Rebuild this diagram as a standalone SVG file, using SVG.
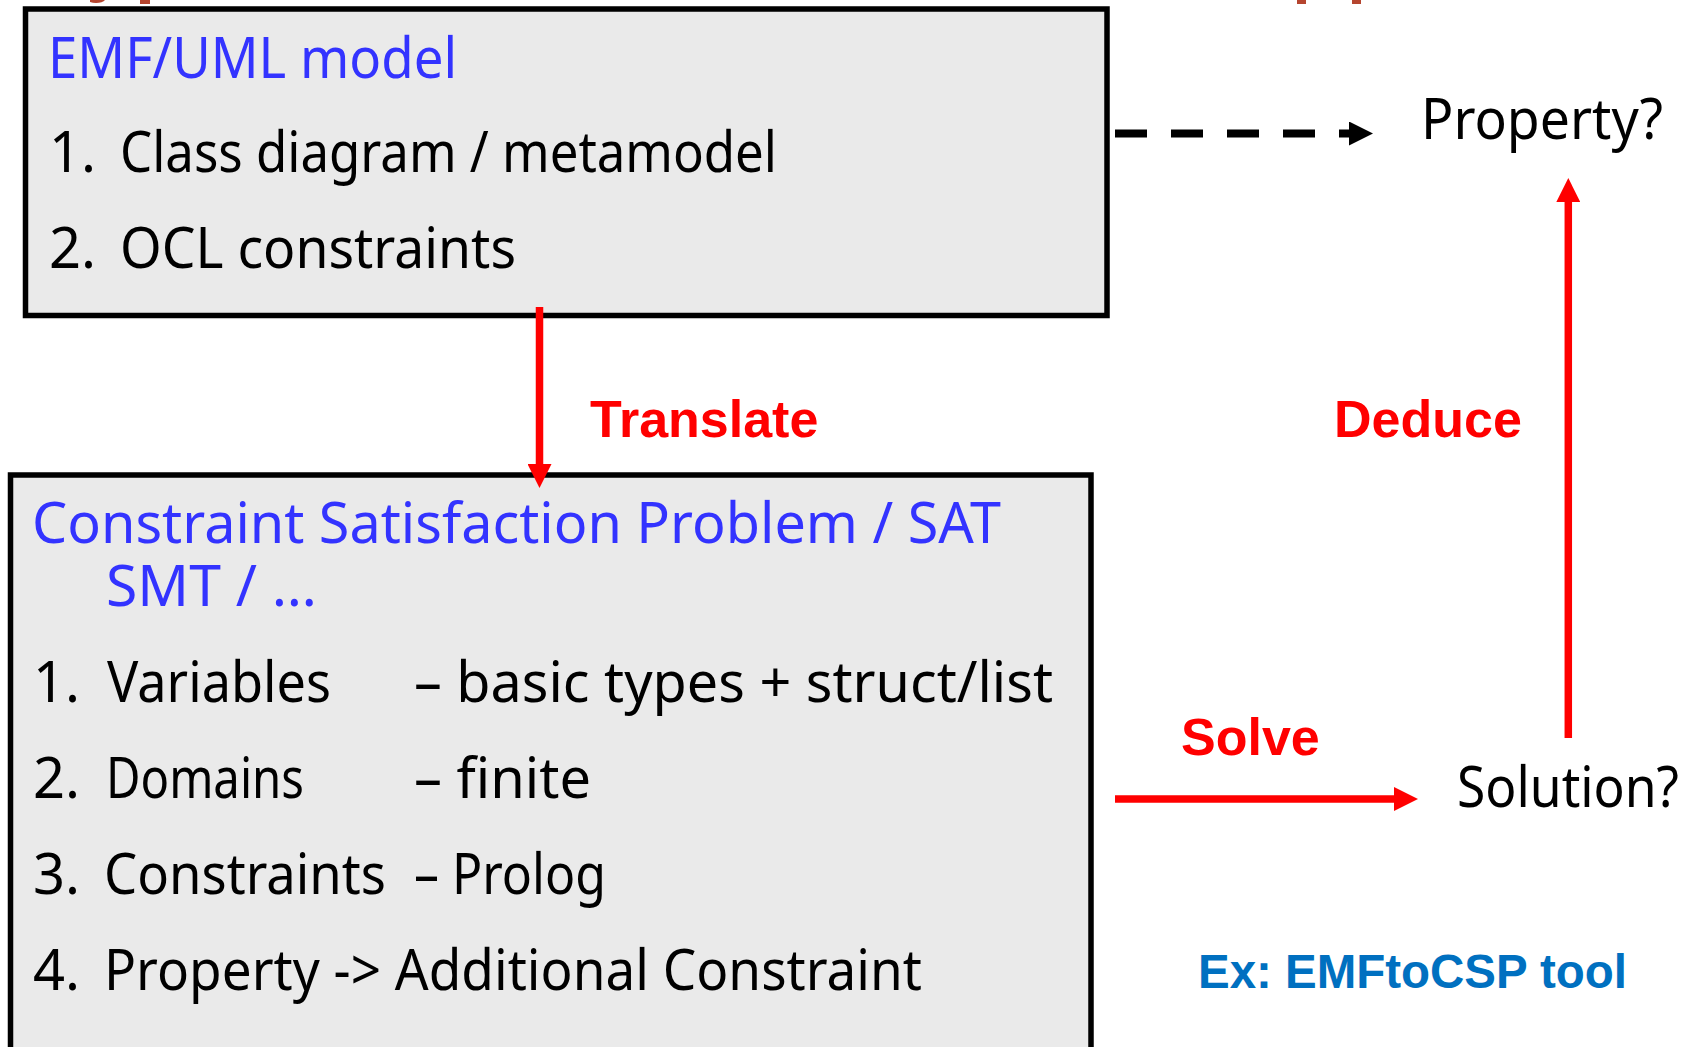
<svg xmlns="http://www.w3.org/2000/svg" width="1692" height="1047" viewBox="0 0 1692 1047">
  <style>
    .box { fill: #eaeaea; stroke: #000; stroke-width: 5.5; }
    .hand { font-family: "Noto Sans", "DejaVu Sans", sans-serif; font-size: 56px; }
    .head { fill: #3333ff; }
    .item { fill: #000; }
    .verb { font-family: "Liberation Sans", Arial, sans-serif; font-weight: bold; font-size: 52px; fill: #ff0000; }
    .note { font-family: "Liberation Sans", Arial, sans-serif; font-weight: bold; font-size: 48px; fill: #0070c0; }
    .red { stroke: #ff0000; stroke-width: 7.5; fill: none; }
    .dash { stroke: #000; stroke-width: 8; stroke-dasharray: 32 24; fill: none; }
    .frag { fill: #b5452f; }
  </style>
  <defs>
    <marker id="tipRed" markerUnits="userSpaceOnUse" markerWidth="24" markerHeight="24" refX="0" refY="12" orient="auto">
      <path d="M0,0 L24,12 L0,24 z" fill="#ff0000"/>
    </marker>
    <marker id="tipBlack" markerUnits="userSpaceOnUse" markerWidth="24" markerHeight="24" refX="0" refY="12" orient="auto">
      <path d="M0,0 L24,12 L0,24 z" fill="#000"/>
    </marker>
  </defs>

  <rect width="1692" height="1047" fill="#fff"/>

  <!-- lower edge of the heading line above -->
  <g id="heading-edge">
    <path class="frag" d="M90,0 L105,0 C103,3 95,4 90,2 z"/>
    <rect class="frag" x="140" y="0" width="10" height="4"/>
    <rect class="frag" x="1297" y="0" width="9" height="4"/>
    <rect class="frag" x="1352" y="0" width="9" height="4"/>
  </g>

  <g id="model">
    <rect class="box" x="25.5" y="9" width="1081.5" height="306.5"/>
    <text class="hand head" x="48" y="78" textLength="409" lengthAdjust="spacingAndGlyphs">EMF/UML model</text>
    <text class="hand item" x="49" y="172">1.</text>
    <text class="hand item" x="120" y="172" textLength="657" lengthAdjust="spacingAndGlyphs">Class diagram / metamodel</text>
    <text class="hand item" x="49" y="268">2.</text>
    <text class="hand item" x="120" y="268" textLength="396" lengthAdjust="spacingAndGlyphs">OCL constraints</text>
  </g>

  <g id="csp">
    <rect class="box" x="10.5" y="475" width="1080.5" height="600"/>
    <text class="hand head" x="32" y="543" textLength="969" lengthAdjust="spacingAndGlyphs">Constraint Satisfaction Problem / SAT</text>
    <text class="hand head" x="106" y="606" textLength="211" lengthAdjust="spacingAndGlyphs">SMT / …</text>
    <text class="hand item" x="33" y="702">1.</text>
    <text class="hand item" x="107" y="702" textLength="224" lengthAdjust="spacingAndGlyphs">Variables</text>
    <text class="hand item" x="414" y="702" textLength="639" lengthAdjust="spacingAndGlyphs">– basic types + struct/list</text>
    <text class="hand item" x="33" y="798">2.</text>
    <text class="hand item" x="106" y="798" textLength="198" lengthAdjust="spacingAndGlyphs">Domains</text>
    <text class="hand item" x="414" y="798" textLength="177" lengthAdjust="spacingAndGlyphs">– finite</text>
    <text class="hand item" x="33" y="894">3.</text>
    <text class="hand item" x="104" y="894" textLength="282" lengthAdjust="spacingAndGlyphs">Constraints</text>
    <text class="hand item" x="414" y="894" textLength="192" lengthAdjust="spacingAndGlyphs">– Prolog</text>
    <text class="hand item" x="33" y="990">4.</text>
    <text class="hand item" x="104" y="990" textLength="818" lengthAdjust="spacingAndGlyphs">Property -&gt; Additional Constraint</text>
  </g>

  <g id="property">
    <text class="hand item" x="1421" y="139" textLength="242" lengthAdjust="spacingAndGlyphs">Property?</text>
  </g>

  <g id="solution">
    <text class="hand item" x="1457" y="807" font-size="52" textLength="222" lengthAdjust="spacingAndGlyphs">Solution?</text>
  </g>

  <g id="connectors">
    <line class="dash" x1="1115" y1="133.5" x2="1349" y2="133.5" marker-end="url(#tipBlack)"/>
    <line class="red" x1="539.5" y1="307" x2="539.5" y2="464" marker-end="url(#tipRed)"/>
    <line class="red" x1="1115" y1="799" x2="1394" y2="799" marker-end="url(#tipRed)"/>
    <line class="red" x1="1568.3" y1="738" x2="1568.3" y2="202" marker-end="url(#tipRed)"/>
    <text class="verb" x="590" y="437">Translate</text>
    <text class="verb" x="1334" y="437">Deduce</text>
    <text class="verb" x="1181" y="755">Solve</text>
  </g>

  <text class="note" x="1198" y="988" textLength="429" lengthAdjust="spacingAndGlyphs">Ex: EMFtoCSP tool</text>
</svg>
